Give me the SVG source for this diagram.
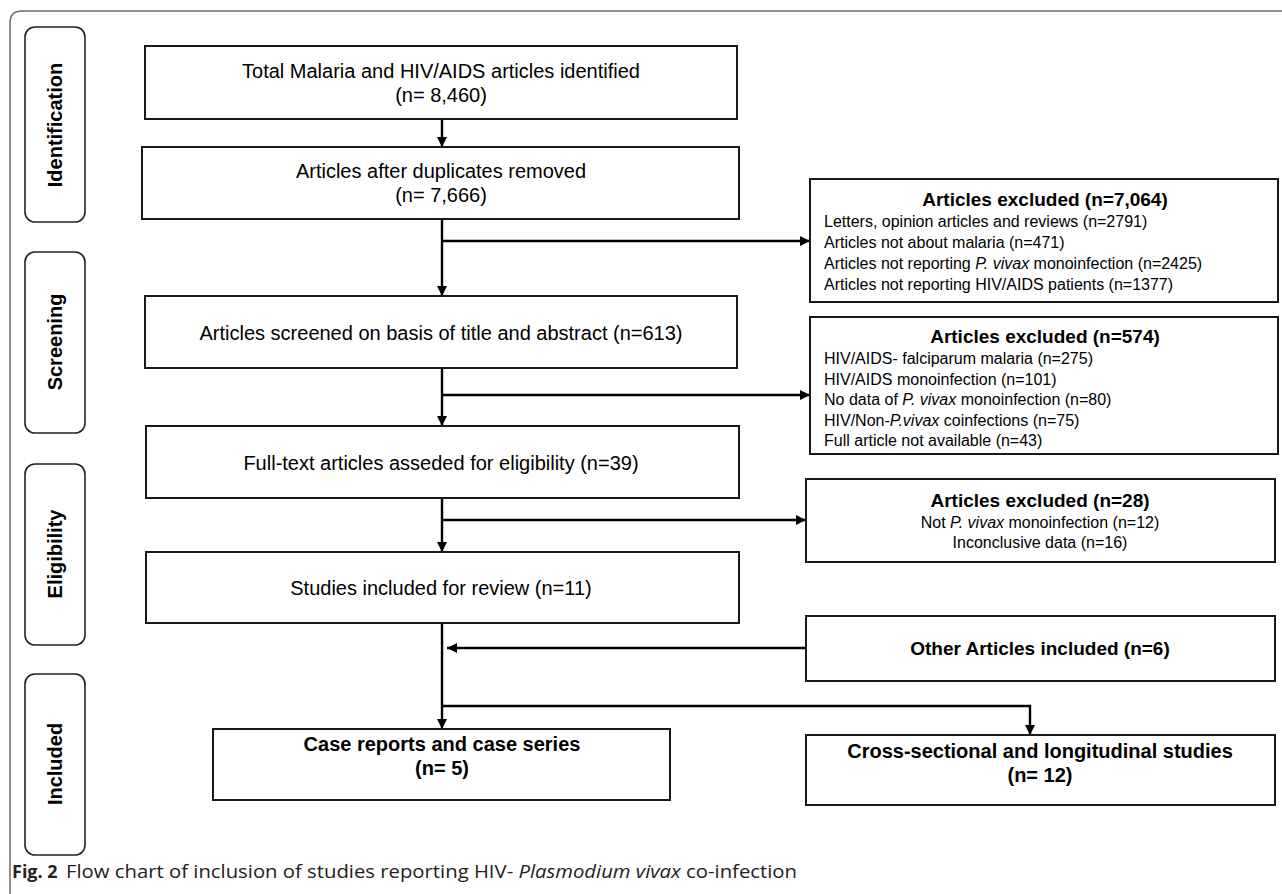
<svg xmlns="http://www.w3.org/2000/svg" width="1282" height="894" viewBox="0 0 1282 894">
<defs>
<style>
.frame{fill:none;stroke:#6b6b6b;stroke-width:1.5}
.stage{fill:#fff;stroke:#222;stroke-width:1.6}
.box{fill:#fff;stroke:#1a1a1a;stroke-width:2}
.stxt{font-family:"Liberation Sans",Arial,sans-serif;font-weight:bold;font-size:20px;fill:#000;text-anchor:middle}
.mtxt{font-family:"Liberation Sans",Arial,sans-serif;font-size:20px;fill:#000;text-anchor:middle}
.btxt{font-family:"Liberation Sans",Arial,sans-serif;font-weight:bold;font-size:20px;fill:#000;text-anchor:middle}
.ttl{font-family:"Liberation Sans",Arial,sans-serif;font-weight:bold;font-size:19px;fill:#000;text-anchor:middle}
.itm{font-family:"Liberation Sans",Arial,sans-serif;font-size:16px;fill:#000}
.ctr{text-anchor:middle}
.conn{fill:none;stroke:#000;stroke-width:2.4}
.cap{font-family:"Open Sans","Noto Sans",sans-serif;font-size:18px;fill:#222}
</style>
<marker id="ah" viewBox="0 0 10 10" refX="10" refY="5" markerWidth="10" markerHeight="10" markerUnits="userSpaceOnUse" orient="auto">
<path d="M0,0 L10,5 L0,10 z" fill="#000"/>
</marker>
</defs>
<rect width="1282" height="894" fill="#fff"/>
<path class="frame" d="M10,894 V23 Q10,11 22,11 H1282"/>

<g id="stage-identification"><rect class="stage" x="25" y="27" width="60" height="195" rx="10"/><text class="stxt" transform="translate(62,125) rotate(-90)">Identification</text></g>
<g id="stage-screening"><rect class="stage" x="25" y="252" width="60" height="181" rx="10"/><text class="stxt" transform="translate(62,342) rotate(-90)">Screening</text></g>
<g id="stage-eligibility"><rect class="stage" x="25" y="464" width="60" height="181" rx="10"/><text class="stxt" transform="translate(62,554) rotate(-90)">Eligibility</text></g>
<g id="stage-included"><rect class="stage" x="25" y="674" width="60" height="181" rx="10"/><text class="stxt" transform="translate(62,764) rotate(-90)">Included</text></g>

<g id="connectors">
<line class="conn" x1="442" y1="119" x2="442" y2="147" marker-end="url(#ah)"/>
<line class="conn" x1="442" y1="219" x2="442" y2="296" marker-end="url(#ah)"/>
<line class="conn" x1="442" y1="241" x2="810" y2="241" marker-end="url(#ah)"/>
<line class="conn" x1="442" y1="368" x2="442" y2="426" marker-end="url(#ah)"/>
<line class="conn" x1="442" y1="395" x2="810" y2="395" marker-end="url(#ah)"/>
<line class="conn" x1="442" y1="498" x2="442" y2="552" marker-end="url(#ah)"/>
<line class="conn" x1="442" y1="520" x2="806" y2="520" marker-end="url(#ah)"/>
<line class="conn" x1="442" y1="623" x2="442" y2="729" marker-end="url(#ah)"/>
<line class="conn" x1="806" y1="648" x2="447" y2="648" marker-end="url(#ah)"/>
<polyline class="conn" points="442,706 1030,706 1030,735" marker-end="url(#ah)"/>
</g>

<g id="n-total"><rect class="box" x="145" y="46" width="592" height="73"/>
<text class="mtxt" x="441" y="78">Total Malaria and HIV/AIDS articles identified</text>
<text class="mtxt" x="441" y="102">(n= 8,460)</text></g>

<g id="n-dup"><rect class="box" x="142" y="147" width="597" height="72"/>
<text class="mtxt" x="441" y="178">Articles after duplicates removed</text>
<text class="mtxt" x="441" y="202">(n= 7,666)</text></g>

<g id="n-screened"><rect class="box" x="145" y="296" width="592" height="72"/>
<text class="mtxt" x="441" y="340">Articles screened on basis of title and abstract (n=613)</text></g>

<g id="n-fulltext"><rect class="box" x="146" y="426" width="593" height="72"/>
<text class="mtxt" x="441" y="470">Full-text articles asseded for eligibility (n=39)</text></g>

<g id="n-studies"><rect class="box" x="146" y="552" width="593" height="71"/>
<text class="mtxt" x="441" y="595">Studies included for review (n=11)</text></g>

<g id="n-excl1"><rect class="box" x="810" y="179" width="468" height="123"/>
<text class="ttl" x="1045" y="206">Articles excluded (n=7,064)</text>
<text class="itm" x="824" y="227">Letters, opinion articles and reviews (n=2791)</text>
<text class="itm" x="824" y="248">Articles not about malaria (n=471)</text>
<text class="itm" x="824" y="269">Articles not reporting <tspan font-style="italic">P. vivax</tspan> monoinfection (n=2425)</text>
<text class="itm" x="824" y="290">Articles not reporting HIV/AIDS patients (n=1377)</text></g>

<g id="n-excl2"><rect class="box" x="810" y="317" width="468" height="137"/>
<text class="ttl" x="1045" y="343">Articles excluded (n=574)</text>
<text class="itm" x="824" y="364">HIV/AIDS- falciparum malaria (n=275)</text>
<text class="itm" x="824" y="385">HIV/AIDS monoinfection (n=101)</text>
<text class="itm" x="824" y="405">No data of <tspan font-style="italic">P. vivax</tspan> monoinfection (n=80)</text>
<text class="itm" x="824" y="426">HIV/Non-<tspan font-style="italic">P.vivax</tspan> coinfections (n=75)</text>
<text class="itm" x="824" y="446">Full article not available (n=43)</text></g>

<g id="n-excl3"><rect class="box" x="806" y="479" width="469" height="83"/>
<text class="ttl" x="1040" y="507">Articles excluded (n=28)</text>
<text class="itm ctr" x="1040" y="528">Not <tspan font-style="italic">P. vivax</tspan> monoinfection (n=12)</text>
<text class="itm ctr" x="1040" y="548">Inconclusive data (n=16)</text></g>

<g id="n-other"><rect class="box" x="806" y="616" width="469" height="65"/>
<text class="ttl" x="1040" y="655">Other Articles included (n=6)</text></g>

<g id="n-case"><rect class="box" x="213" y="729" width="457" height="71"/>
<text class="btxt" x="442" y="751">Case reports and case series</text>
<text class="btxt" x="442" y="775">(n= 5)</text></g>

<g id="n-cross"><rect class="box" x="806" y="735" width="469" height="70"/>
<text class="btxt" x="1040" y="758">Cross-sectional and longitudinal studies</text>
<text class="btxt" x="1040" y="782">(n= 12)</text></g>

<g id="caption">
<text class="cap" x="12" y="878"><tspan font-weight="bold">Fig. 2</tspan></text>
<text class="cap" x="66" y="878" textLength="731" lengthAdjust="spacingAndGlyphs">Flow chart of inclusion of studies reporting HIV- <tspan font-style="italic">Plasmodium vivax</tspan> co-infection</text>
</g>
</svg>
